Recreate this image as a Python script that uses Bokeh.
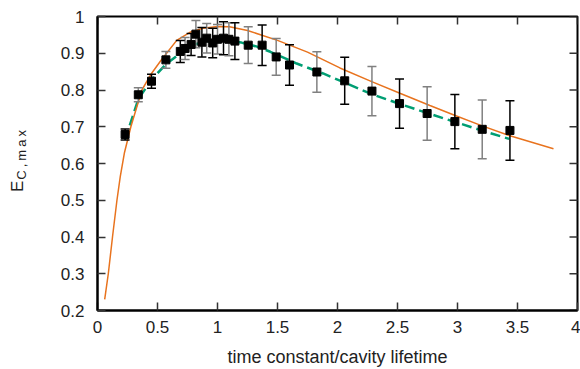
import math
from bokeh.plotting import figure
from bokeh.models import Range1d, FixedTicker, ColumnDataSource, Div
from bokeh.layouts import row
from bokeh.embed import file_html
from bokeh.resources import INLINE

# ---- data ----
meas_x = [0.23, 0.34, 0.45, 0.57, 0.69, 0.73, 0.78, 0.82, 0.87, 0.91, 0.96, 1.0, 1.05, 1.095,
          1.145, 1.256, 1.372, 1.489, 1.6, 1.828, 2.06, 2.287, 2.517, 2.747, 2.978, 3.206, 3.437]
meas_y = [0.679, 0.787, 0.824, 0.882, 0.905, 0.913, 0.924, 0.952, 0.93, 0.941, 0.928, 0.938, 0.941, 0.938,
          0.933, 0.922, 0.922, 0.89, 0.868, 0.849, 0.825, 0.797, 0.763, 0.736, 0.714, 0.693, 0.69]
meas_err = [0.015, 0.019, 0.019, 0.023, 0.03, 0.03, 0.03, 0.037, 0.04, 0.04, 0.04, 0.04, 0.045, 0.045,
            0.05, 0.05, 0.055, 0.05, 0.055, 0.055, 0.064, 0.067, 0.067, 0.073, 0.074, 0.08, 0.081]
err_colors = ["#000000", "#808080"] * 13 + ["#000000"]

fit_x = [0.23, 0.34, 0.45, 0.57, 0.69, 0.82, 1.0, 1.2, 1.33, 1.44, 1.66, 1.88, 2.06, 2.29, 2.52,
         2.75, 2.98, 3.2, 3.43]
fit_y = [0.665, 0.775, 0.828, 0.87, 0.9, 0.925, 0.937, 0.929, 0.918, 0.904, 0.872, 0.845, 0.82, 0.788,
         0.762, 0.737, 0.713, 0.69, 0.667]

model_x = [0.06, 0.09, 0.125, 0.162, 0.19, 0.225, 0.278, 0.37, 0.45, 0.53, 0.66, 0.77, 0.88, 1.0, 1.1, 1.25,
           1.5, 1.75, 2.02, 2.29, 2.52, 2.77, 2.97, 3.2, 3.43, 3.8]
model_y = [0.23, 0.30, 0.40, 0.50, 0.565, 0.63, 0.70, 0.80, 0.845, 0.881, 0.935, 0.957, 0.968, 0.973, 0.972, 0.962,
           0.935, 0.903, 0.86, 0.822, 0.791, 0.758, 0.732, 0.703, 0.676, 0.64]

x_ticks = [0, 0.5, 1, 1.5, 2, 2.5, 3, 3.5, 4]
x_tick_labels = ["0", "0.5", "1", "1.5", "2", "2.5", "3", "3.5", "4"]
y_ticks = [0.2, 0.3, 0.4, 0.5, 0.6, 0.7, 0.8, 0.9, 1.0]
y_tick_labels = ["0.2", "0.3", "0.4", "0.5", "0.6", "0.7", "0.8", "0.9", "1"]

FONT = "Liberation Sans"
LABEL_W = 30

p = figure(width=580 - LABEL_W, height=369, output_backend="svg", toolbar_location=None,
           x_range=Range1d(0, 4), y_range=Range1d(0.2, 1.0),
           min_border_left=97 - LABEL_W, min_border_right=3, min_border_top=16, min_border_bottom=57,
           x_axis_label="time constant/cavity lifetime", margin=0)
p.grid.visible = False
p.outline_line_color = "#000000"
p.outline_line_width = 2
p.background_fill_color = "white"
p.border_fill_color = "white"

for ax, ticks, labels in ((p.xaxis[0], x_ticks, x_tick_labels), (p.yaxis[0], y_ticks, y_tick_labels)):
    ax.ticker = FixedTicker(ticks=ticks)
    ax.major_label_overrides = {t: l for t, l in zip(ticks, labels)}
    ax.minor_tick_line_color = None
    ax.major_tick_in = 8
    ax.major_tick_out = 0
    ax.major_tick_line_color = "#333333"
    ax.major_tick_line_width = 1.5
    ax.axis_line_color = "#000000"
    ax.axis_line_width = 2
    ax.major_label_text_font = FONT
    ax.major_label_text_font_size = "17px"
    ax.major_label_text_color = "#222222"

p.xaxis[0].major_label_standoff = 10
p.yaxis[0].major_label_standoff = 13
p.xaxis[0].axis_label_text_font = FONT
p.xaxis[0].axis_label_text_font_size = "18px"
p.xaxis[0].axis_label_text_font_style = "normal"
p.xaxis[0].axis_label_text_color = "#222222"
p.xaxis[0].axis_label_standoff = 11

# mirrored inward ticks on top and right edges (half of each dash is clipped by the frame)
p.scatter(x=x_ticks, y=[y_ticks[-1]] * len(x_ticks), marker="dash", angle=math.pi / 2, size=16,
          line_color="#333333", line_width=1.5)
p.scatter(x=[x_ticks[-1]] * len(y_ticks), y=y_ticks, marker="dash", size=16,
          line_color="#333333", line_width=1.5)

# curves
p.line(fit_x, fit_y, line_color="#009E73", line_width=2.5, line_dash="10 5")
p.line(model_x, model_y, line_color="#E8731E", line_width=1.5)

# error bars and points
lo = [y - e for y, e in zip(meas_y, meas_err)]
hi = [y + e for y, e in zip(meas_y, meas_err)]
src = ColumnDataSource(dict(x=meas_x, y=meas_y, lo=lo, hi=hi, c=err_colors))
p.segment(x0="x", y0="lo", x1="x", y1="hi", source=src, line_color="c", line_width=1.5)
p.scatter(x="x", y="lo", source=src, marker="dash", size=9, line_color="c", line_width=1.5)
p.scatter(x="x", y="hi", source=src, marker="dash", size=9, line_color="c", line_width=1.5)
p.scatter(x="x", y="y", source=src, marker="square", size=8, fill_color="black", line_color="black")

# rotated y axis label E_{C,max}
ylabel_html = (
    '<div style="display:inline-block; white-space:nowrap; font-family:\'Liberation Sans\',sans-serif; '
    'font-size:17px; line-height:17px; color:#222222; letter-spacing:1px; '
    'transform-origin:0 0; transform:translate(9px,192px) rotate(-90deg);">'
    'E<span style="font-size:13px; vertical-align:-3px; letter-spacing:3px;">C,max</span></div>'
)
ylabel = Div(text=ylabel_html, width=LABEL_W, height=369, margin=0, styles={"overflow": "visible"})

layout = row(ylabel, p, margin=0, spacing=0)
open("out.html", "w").write(file_html(layout, INLINE))
